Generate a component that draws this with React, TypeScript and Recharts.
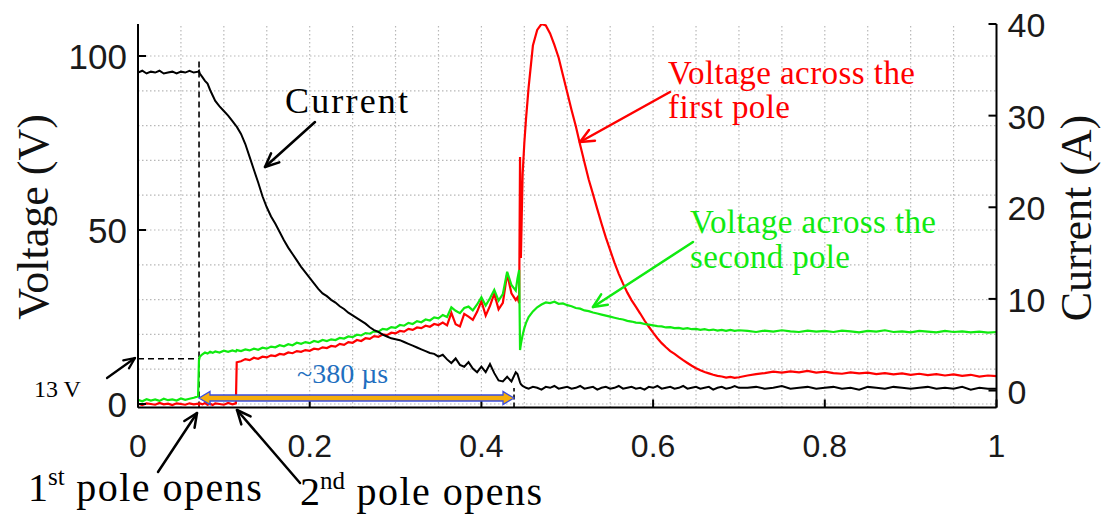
import React from 'react';
import { ComposedChart, Line, XAxis, YAxis, ReferenceLine } from 'recharts';

// time axis (ms, normalised 0..1)
const time = [
  0, 0.005, 0.01, 0.015, 0.02, 0.025, 0.03, 0.035, 0.04, 0.045, 0.05, 0.055, 0.06, 0.065, 0.07,
  0.071, 0.072, 0.075, 0.078, 0.081, 0.084, 0.087, 0.09, 0.095, 0.1, 0.105, 0.11, 0.114, 0.115,
  0.12, 0.125, 0.13, 0.135, 0.14, 0.145, 0.15, 0.155, 0.16, 0.165,
  0.17, 0.175, 0.18, 0.185, 0.19, 0.195, 0.2, 0.205, 0.21, 0.215,
  0.22, 0.225, 0.23, 0.235, 0.24, 0.245, 0.25, 0.255, 0.26, 0.265,
  0.27, 0.275, 0.28, 0.285, 0.29, 0.295, 0.3, 0.305, 0.31, 0.315,
  0.32, 0.325, 0.33, 0.335, 0.34, 0.345, 0.35, 0.355, 0.36, 0.365,
  0.37, 0.375, 0.38, 0.385, 0.39, 0.395, 0.4, 0.405, 0.41, 0.415,
  0.42, 0.425, 0.43, 0.435, 0.44,
  0.442, 0.444, 0.445, 0.446, 0.448, 0.45, 0.452,
  0.455, 0.46, 0.465, 0.47, 0.475, 0.48, 0.485, 0.49, 0.495, 0.5,
  0.505, 0.51, 0.515, 0.52, 0.525, 0.53, 0.535, 0.54, 0.545, 0.55,
  0.555, 0.56, 0.565, 0.57, 0.575, 0.58, 0.585, 0.59, 0.595, 0.6,
  0.605, 0.61, 0.615, 0.62, 0.625, 0.63, 0.635, 0.64, 0.645, 0.65,
  0.655, 0.66, 0.665, 0.67, 0.675, 0.68, 0.685, 0.69, 0.695, 0.7,
  0.71, 0.72, 0.73, 0.74, 0.75, 0.76, 0.77, 0.78, 0.79, 0.8,
  0.81, 0.82, 0.83, 0.84, 0.85, 0.86, 0.87, 0.88, 0.89, 0.9,
  0.91, 0.92, 0.93, 0.94, 0.95, 0.96, 0.97, 0.98, 0.99, 1,
];

// Current (A), right axis
const currentA = [
  34.7, 34.9, 34.6, 34.8, 34.7, 34.9, 34.6, 34.7, 34.8, 34.6, 34.8, 34.7, 34.9, 34.7, 34.8,
  34.9, 34.6, 34.2, 33.8, 33.5, 32.8, 32.2, 31.6, 31.0, 30.5, 30.0, 29.4, 28.9, 28.8,
  28.0, 26.9, 25.5, 24.1, 22.7, 21.2, 20.0, 19.0, 18.2, 17.3,
  16.4, 15.6, 14.9, 14.2, 13.5, 12.9, 12.3, 11.7, 11.1, 10.6,
  10.3, 9.9, 9.6, 9.2, 8.9, 8.5, 8.2, 7.9, 7.6, 7.3,
  6.9, 6.6, 6.4, 6.1, 5.9, 5.7, 5.6, 5.5, 5.3, 5.1,
  4.9, 4.7, 4.5, 4.3, 4.1, 4.0, 3.7, 3.9, 3.4, 3.0,
  3.5, 2.8, 2.6, 3.1, 2.4, 2.0, 2.6, 2.0, 2.9, 1.9,
  1.1, 1.0, 1.5, 1.0, 2.0,
  1.8, 1.2, 0.9, 0.7, 0.5, 0.4, 0.3,
  0.2, 0.4, 0.3, 0.1, 0.4, 0.3, 0.5, 0.2, 0.3, 0.4,
  0.2, 0.3, 0.5, 0.2, 0.3, 0.4, 0.1, 0.3, 0.4, 0.2,
  0.3, 0.5, 0.2, 0.3, 0.4, 0.2, 0.3, 0.1, 0.4, 0.3,
  0.5, 0.2, 0.3, 0.4, 0.2, 0.3, 0.5, 0.2, 0.3, 0.4,
  0.2, 0.3, 0.4, 0.1, 0.3, 0.4, 0.2, 0.3, 0.5, 0.3,
  0.3, 0.4, 0.2, 0.3, 0.5, 0.2, 0.3, 0.4, 0.2, 0.3,
  0.4, 0.2, 0.3, 0.1, 0.4, 0.3, 0.2, 0.4, 0.3, 0.2,
  0.3, 0.4, 0.2, 0.3, 0.2, 0.4, 0.1, 0.3, 0.2, 0.2,
];

// Voltage across the first pole (V), left axis
const voltFirstPole = [
  0.1, -0.3, 0.2, 0.0, -0.2, 0.3, -0.1, 0.1, -0.3, 0.2, 0.0, -0.2, 0.2, -0.1, 0.1,
  -0.2, 0.2, -0.1, 0.3, -0.2, 0.1, -0.3, 0.2, 0.0, -0.2, 0.3, -0.1, 0.2, 12.0,
  12.3, 12.9, 12.6, 13.3, 13.0, 13.6, 13.4, 14.0, 13.8, 14.4,
  14.2, 14.8, 14.6, 15.2, 15.0, 15.5, 15.3, 15.9, 15.7, 16.3,
  16.1, 16.7, 16.5, 17.3, 17.0, 17.8, 17.6, 18.4, 18.1, 18.9,
  18.7, 19.5, 19.3, 20.0, 19.8, 20.5, 20.3, 21.0, 20.8, 21.6,
  21.3, 22.0, 21.8, 22.5, 22.2, 23.0, 22.7, 23.4, 22.6, 26.2,
  22.9, 22.3, 25.9, 25.1, 24.2, 26.5, 29.6, 25.4, 28.2, 31.7,
  27.2, 29.1, 37.4, 31.8, 29.9,
  30.6, 29.0, 71.0, 42.0, 66.0, 75.0, 82.0,
  91.0, 103.0, 107.5, 109.2, 108.8, 106.5, 103.2, 99.5, 94.5, 89.5,
  84.5, 79.8, 74.5, 69.5, 64.5, 60.3, 56.0, 51.8, 47.8, 44.2,
  40.6, 37.4, 34.6, 32.0, 29.8, 27.9, 26.0, 24.0, 22.2, 20.5,
  18.9, 17.5, 16.3, 15.2, 14.4, 13.5, 12.6, 11.8, 11.0, 10.3,
  9.7, 9.2, 8.8, 8.4, 8.1, 7.9, 7.6, 7.8, 7.5, 7.7,
  8.2, 8.6, 8.9, 9.3, 9.0, 9.4, 9.1, 9.5, 9.0, 9.3,
  8.9, 8.7, 9.1, 8.8, 9.0, 8.6, 8.9, 8.5, 8.8, 8.4,
  8.7, 8.3, 8.6, 8.2, 8.5, 8.1, 8.4, 7.9, 8.2, 8.0,
];

// Voltage across the second pole (V), left axis
const voltSecondPole = [
  1.2, 0.8, 1.4, 1.0, 1.3, 0.9, 1.5, 1.1, 1.3, 1.0, 1.6, 1.2, 1.5, 1.8, 2.2,
  12.6, 13.6, 14.3, 14.8, 14.5, 15.0, 14.7, 15.1, 14.8, 15.3, 15.0, 15.4, 15.1, 15.5,
  15.2, 15.7, 15.4, 15.9, 15.6, 16.2, 15.9, 16.5, 16.3, 16.9,
  16.6, 17.2, 16.9, 17.6, 17.3, 17.8, 17.5, 18.1, 17.8, 18.4,
  18.1, 18.6, 18.4, 19.0, 18.8, 19.4, 19.2, 19.9, 19.7, 20.4,
  20.2, 20.9, 20.8, 21.6, 21.4, 22.1, 21.9, 22.7, 22.5, 23.3,
  23.0, 23.8, 23.5, 24.3, 24.0, 24.9, 24.6, 25.6, 25.0, 27.8,
  26.8, 26.1, 27.6, 28.0, 26.9, 28.6, 30.7, 28.3, 30.4, 32.8,
  29.7, 31.6, 38.0, 34.2, 32.6,
  36.0, 38.5, 15.5, 17.2, 19.8, 21.8, 23.3,
  25.0, 26.6, 27.8, 28.6, 29.2, 29.0, 29.4, 28.8, 28.9, 28.4,
  28.1, 27.6, 27.4, 26.9, 26.7, 26.3, 26.0, 25.7, 25.4, 25.1,
  24.8, 24.5, 24.3, 23.9, 23.7, 23.4, 23.3, 23.0, 22.8, 22.6,
  22.4, 22.3, 22.0, 22.1, 21.8, 21.9, 21.6, 21.8, 21.5, 21.6,
  21.3, 21.5, 21.2, 21.4, 21.1, 21.3, 21.0, 21.3, 21.0, 21.2,
  21.0, 20.7, 21.1, 20.8, 21.2, 20.9, 20.7, 21.1, 20.8, 21.0,
  20.7, 21.1, 20.9, 20.6, 21.0, 20.8, 21.2, 20.7, 20.9, 20.6,
  21.0, 20.8, 20.6, 21.0, 20.7, 20.9, 20.6, 20.8, 20.5, 20.7,
];

const xTicks = [0, 0.2, 0.4, 0.6, 0.8, 1];
const voltTicks = [0, 50, 100];
const currentTicks = [0, 10, 20, 30, 40];
const gridTimes = [0.05, 0.1, 0.15, 0.2, 0.25, 0.3, 0.35, 0.4, 0.45, 0.5, 0.55, 0.6, 0.65, 0.7, 0.75, 0.8, 0.85, 0.9, 0.95];
const gridVolts = [0, 10, 20, 30, 40, 50, 60, 70, 80, 90, 100];
const voltDomain = [-1, 109.2];
const currentDomain = [-1.85, 40];

const firstPoleOpens = 0.0711;
const arcEnd = 0.438;
const onsetVoltage = 13;
const preOpenMarkerCurrent = 36;
const arcEndMarkerVolt = 4.6;

const data = time.map((t, i) => ({
  t,
  current: currentA[i],
  v1: voltFirstPole[i],
  v2: voltSecondPole[i],
}));

const SANS = "'Liberation Sans', Arial, sans-serif";
const SERIF = "'Liberation Serif', 'Times New Roman', serif";
const RED = '#ff0000';
const GREEN = '#10ea10';
const sansStyle = { fontFamily: SANS };
const serifStyle = { fontFamily: SERIF };

const XTick = (props: any) => {
  const { x, y, payload } = props;
  return (
    <g>
      <line x1={x} y1={y} x2={x} y2={y - 8} stroke="#000" strokeWidth={2} />
      <text x={x} y={y + 49} textAnchor="middle" style={sansStyle} fontSize={32} fill="#1a1a1a">
        {payload.value}
      </text>
    </g>
  );
};

const TopTick = (props: any) => {
  const { x, y } = props;
  return <line x1={x} y1={y} x2={x} y2={y + 8} stroke="#000" strokeWidth={2} />;
};

const LeftTick = (props: any) => {
  const { x, y, payload } = props;
  return (
    <g>
      <line x1={x} y1={y} x2={x + 8} y2={y} stroke="#000" strokeWidth={2} />
      <text x={x - 11} y={y + 13} textAnchor="end" style={sansStyle} fontSize={35} fill="#1a1a1a">
        {payload.value}
      </text>
    </g>
  );
};

const RightTick = (props: any) => {
  const { x, y, payload } = props;
  return (
    <g>
      <line x1={x} y1={y} x2={x - 8} y2={y} stroke="#000" strokeWidth={2} />
      <text x={x + 11} y={y + 13} textAnchor="start" style={sansStyle} fontSize={34} fill="#1a1a1a">
        {payload.value}
      </text>
    </g>
  );
};

const Arrow = ({ x1, y1, x2, y2, color, w = 2.5, head = 15 }: any) => {
  const a = Math.atan2(y2 - y1, x2 - x1);
  const s = 0.42;
  const hx1 = x2 - head * Math.cos(a - s);
  const hy1 = y2 - head * Math.sin(a - s);
  const hx2 = x2 - head * Math.cos(a + s);
  const hy2 = y2 - head * Math.sin(a + s);
  return (
    <g stroke={color} strokeWidth={w} fill="none" strokeLinecap="round" strokeLinejoin="round">
      <line x1={x1} y1={y1} x2={x2} y2={y2} />
      <polyline points={`${hx1},${hy1} ${x2},${y2} ${hx2},${hy2}`} />
    </g>
  );
};

export default function App() {
  return (
    <div style={{ position: 'absolute', left: 0, top: 0, width: 1104, height: 515, background: '#fff' }}>
      <ComposedChart width={1104} height={515} data={data} margin={{ top: 24, right: 0, bottom: 0, left: 0 }}>
        <XAxis
          dataKey="t"
          type="number"
          domain={[0, 1]}
          ticks={xTicks}
          interval={0}
          height={107.5}
          tickSize={0}
          tickMargin={0}
          tickLine={false}
          tick={<XTick />}
          axisLine={{ stroke: '#000', strokeWidth: 2 }}
          allowDataOverflow
        />
        <XAxis
          xAxisId="top"
          orientation="top"
          dataKey="t"
          type="number"
          domain={[0, 1]}
          ticks={xTicks}
          interval={0}
          height={0}
          tickSize={0}
          tickMargin={0}
          tickLine={false}
          tick={<TopTick />}
          axisLine={{ stroke: '#000', strokeWidth: 2 }}
          allowDataOverflow
        />
        <YAxis
          yAxisId="V"
          type="number"
          domain={voltDomain}
          ticks={voltTicks}
          interval={0}
          width={138}
          tickSize={0}
          tickMargin={0}
          tickLine={false}
          tick={<LeftTick />}
          axisLine={{ stroke: '#000', strokeWidth: 2 }}
          allowDataOverflow
        />
        <YAxis
          yAxisId="A"
          orientation="right"
          type="number"
          domain={currentDomain}
          ticks={currentTicks}
          interval={0}
          width={107.5}
          tickSize={0}
          tickMargin={0}
          tickLine={false}
          tick={<RightTick />}
          axisLine={{ stroke: '#000', strokeWidth: 2 }}
          allowDataOverflow
        />
        {gridTimes.map((g) => (
          <ReferenceLine key={'gx' + g} x={g} yAxisId="V" stroke="#b8b8b8" strokeWidth={1.2} strokeDasharray="1.5 2.5" />
        ))}
        {gridVolts.map((g) => (
          <ReferenceLine key={'gy' + g} y={g} yAxisId="V" stroke="#b8b8b8" strokeWidth={1.2} strokeDasharray="1.5 2.5" />
        ))}
        <ReferenceLine
          yAxisId="V"
          segment={[{ x: 0, y: onsetVoltage }, { x: firstPoleOpens, y: onsetVoltage }]}
          stroke="#000"
          strokeWidth={1.6}
          strokeDasharray="6 4"
        />
        <ReferenceLine
          yAxisId="A"
          segment={[{ x: firstPoleOpens, y: currentDomain[0] }, { x: firstPoleOpens, y: preOpenMarkerCurrent }]}
          stroke="#000"
          strokeWidth={1.6}
          strokeDasharray="6 4"
        />
        <ReferenceLine
          yAxisId="V"
          segment={[{ x: arcEnd, y: voltDomain[0] }, { x: arcEnd, y: arcEndMarkerVolt }]}
          stroke="#000"
          strokeWidth={1.6}
          strokeDasharray="5 3"
        />
        <Line yAxisId="V" dataKey="v1" stroke={RED} strokeWidth={2.2} dot={false} type="linear" isAnimationActive={false} />
        <Line yAxisId="V" dataKey="v2" stroke={GREEN} strokeWidth={2.2} dot={false} type="linear" isAnimationActive={false} />
        <Line yAxisId="A" dataKey="current" stroke="#000" strokeWidth={2} dot={false} type="linear" isAnimationActive={false} />
      </ComposedChart>
      <svg width={1104} height={515} style={{ position: 'absolute', left: 0, top: 0, pointerEvents: 'none' }}>
        <text transform="translate(48,217) rotate(-90)" textAnchor="middle" style={serifStyle} fontSize={44} fill="#111">
          Voltage (V)
        </text>
        <text transform="translate(1091,218) rotate(-90)" textAnchor="middle" style={serifStyle} fontSize={44} fill="#111">
          Current (A)
        </text>

        <text x={285} y={113} style={serifStyle} fontSize={36} textLength={123} fill="#000">Current</text>
        <Arrow x1={315} y1={122} x2={265} y2={167} color="#000" />

        <text x={668} y={84} style={serifStyle} fontSize={33} textLength={247} fill={RED}>Voltage across the</text>
        <text x={668} y={118} style={serifStyle} fontSize={33} textLength={122} fill={RED}>first pole</text>
        <Arrow x1={670} y1={92} x2={580} y2={142} color={RED} />

        <text x={690} y={233} style={serifStyle} fontSize={33} textLength={246} fill={GREEN}>Voltage across the</text>
        <text x={690} y={268} style={serifStyle} fontSize={33} textLength={160} fill={GREEN}>second pole</text>
        <Arrow x1={693} y1={242} x2={593} y2={307} color={GREEN} />

        <text x={34} y={397} style={serifStyle} fontSize={24} fill="#000">13 V</text>
        <Arrow x1={107} y1={378} x2={135} y2={358} color="#000" w={2.2} head={12} />

        <polygon
          points="199,398 210,391.5 210,395 503,395 503,391.5 514,398 503,404.5 503,401 210,401 210,404.5"
          fill="#f5ae0a"
          stroke="#3a4ee0"
          strokeWidth={1.3}
        />
        <text x={297} y={383} style={serifStyle} fontSize={28} fill="#1f6fc0">~380 µs</text>

        <text x={28} y={501} style={serifStyle} fontSize={40} fill="#000">
          1<tspan fontSize={25} dy={-16}>st</tspan>
          <tspan dy={16} style={{ letterSpacing: '1.5px' }}> pole opens</tspan>
        </text>
        <Arrow x1={158} y1={472} x2={197} y2={413} color="#000" />

        <text x={300} y={505} style={serifStyle} fontSize={40} fill="#000">
          2<tspan fontSize={25} dy={-16}>nd</tspan>
          <tspan dy={16} style={{ letterSpacing: '1.5px' }}> pole opens</tspan>
        </text>
        <Arrow x1={300} y1={483} x2={237} y2={410} color="#000" />
      </svg>
    </div>
  );
}
